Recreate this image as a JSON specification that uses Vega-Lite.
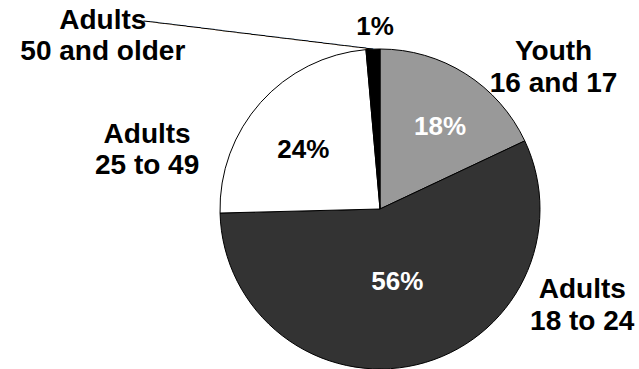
{
  "$schema": "https://vega.github.io/schema/vega-lite/v6.json",
  "width": 518,
  "height": 320,
  "autosize": {"type": "none"},
  "padding": {"left": 121, "top": 49, "right": 0, "bottom": 0},
  "background": "#ffffff",
  "config": {"view": {"stroke": null}, "text": {"font": "Liberation Sans", "fontWeight": "bold", "lineBreak": "\n"}},
  "data": {
    "values": [
      {"ord": 1, "cat": "Youth 16 and 17", "value": 18.0, "pct": "18%", "label": "Youth\n16 and 17"},
      {"ord": 2, "cat": "Adults 18 to 24", "value": 56.6, "pct": "56%", "label": "Adults\n18 to 24"},
      {"ord": 3, "cat": "Adults 25 to 49", "value": 24.0, "pct": "24%", "label": "Adults\n25 to 49"},
      {"ord": 4, "cat": "Adults 50 and older", "value": 1.4, "pct": "1%", "label": "Adults\n50 and older"}
    ]
  },
  "encoding": {
    "theta": {"field": "value", "type": "quantitative", "stack": true},
    "order": {"field": "ord", "type": "quantitative"}
  },
  "layer": [
    {
      "mark": {"type": "arc", "stroke": "#000000", "strokeWidth": 1},
      "encoding": {
        "color": {"field": "cat", "type": "nominal", "legend": null,
          "scale": {"domain": ["Youth 16 and 17", "Adults 18 to 24", "Adults 25 to 49", "Adults 50 and older"],
                    "range": ["#999999", "#333333", "#ffffff", "#000000"]}}
      }
    },
    {
      "mark": {"type": "text", "radius": 101, "dx": 6, "dy": 3, "fontSize": 26, "color": "#ffffff"},
      "encoding": {"text": {"condition": {"test": "datum.ord == 1", "field": "pct"}, "value": ""}}
    },
    {
      "mark": {"type": "text", "radius": 75, "fontSize": 26, "color": "#ffffff"},
      "encoding": {"text": {"condition": {"test": "datum.ord == 2", "field": "pct"}, "value": ""}}
    },
    {
      "mark": {"type": "text", "radius": 96, "dx": -5, "dy": 5, "fontSize": 26, "color": "#000000"},
      "encoding": {"text": {"condition": {"test": "datum.ord == 3", "field": "pct"}, "value": ""}}
    },
    {
      "mark": {"type": "text", "radius": 182, "dx": 3, "fontSize": 26, "color": "#000000"},
      "encoding": {"text": {"condition": {"test": "datum.ord == 4", "field": "pct"}, "value": ""}}
    },
    {
      "mark": {"type": "text", "radius": 212, "dx": 60, "dy": 22, "fontSize": 28, "lineHeight": 32, "color": "#000000"},
      "encoding": {"text": {"condition": {"test": "datum.ord == 1", "field": "label"}, "value": ""}}
    },
    {
      "mark": {"type": "text", "radius": 140, "dx": 170, "dy": -55, "fontSize": 28, "lineHeight": 32, "color": "#000000"},
      "encoding": {"text": {"condition": {"test": "datum.ord == 2", "field": "label"}, "value": ""}}
    },
    {
      "mark": {"type": "text", "radius": 213, "dx": -74, "dy": 68, "fontSize": 28, "lineHeight": 31, "color": "#000000"},
      "encoding": {"text": {"condition": {"test": "datum.ord == 3", "field": "label"}, "value": ""}}
    },
    {
      "mark": {"type": "text", "radius": 186, "dx": -269, "dy": -2, "fontSize": 28, "lineHeight": 31, "color": "#000000"},
      "encoding": {"text": {"condition": {"test": "datum.ord == 4", "field": "label"}, "value": ""}}
    },
    {
      "mark": {"type": "text", "radius": 160, "align": "right", "baseline": "middle", "angle": 7, "font": "DejaVu Sans Mono", "fontWeight": "normal", "fontSize": 12, "color": "#000000"},
      "encoding": {"text": {"condition": {"test": "datum.ord == 4", "value": "────────────────────────────────"}, "value": ""}}
    }
  ]
}
